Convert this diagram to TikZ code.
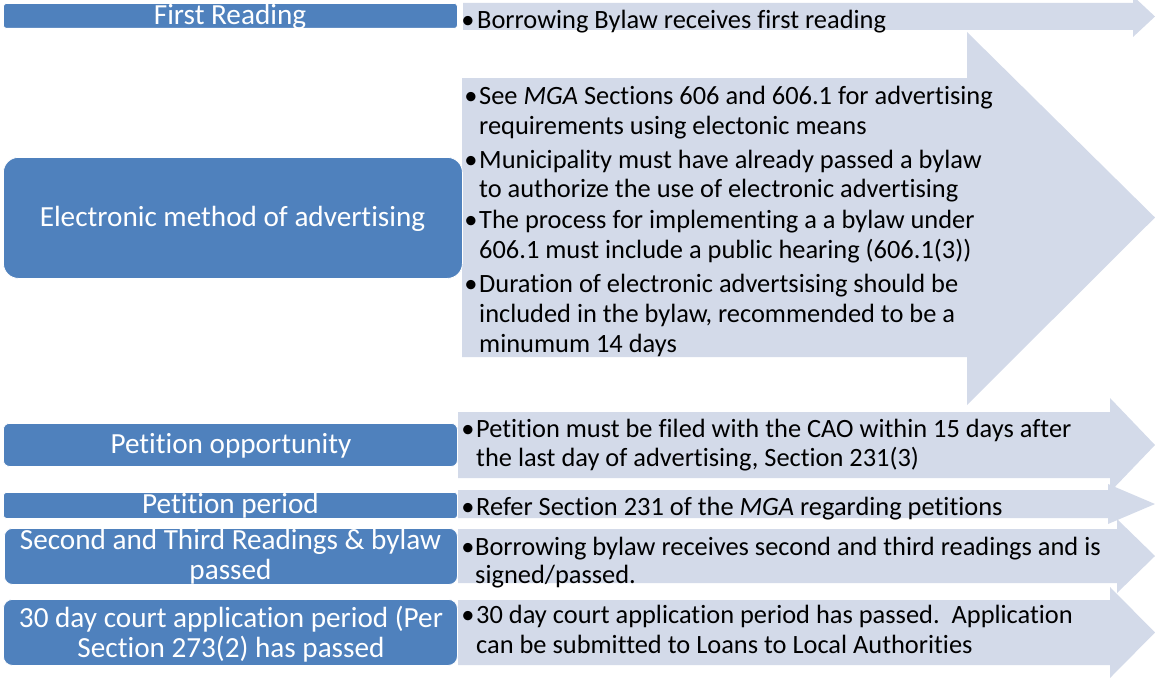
\documentclass[tikz,border=0pt]{standalone}
\usepackage{fontspec}
\setmainfont[Ligatures={NoCommon,NoContextual}]{Carlito}
\definecolor{boxblue}{HTML}{4F81BD}
\definecolor{arrowcol}{HTML}{D3DAE9}
\tikzset{
  stagebox/.style={fill=boxblue, draw=white, line width=0.8pt, inner sep=0pt, anchor=north west},
  stagetext/.style={text=white, inner sep=0pt, anchor=base, font=\fontsize{29.2}{30}\selectfont},
  itemtext/.style={text=black, inner sep=0pt, anchor=base west, font=\fontsize{26.4}{30}\selectfont},
  itemdot/.style={text=black, inner sep=0pt, anchor=base, font=\fontsize{26.4}{30}\selectfont},
}
\newcommand{\flowarrow}[6]{% left, body top, body bottom, head start, head top, head bottom
  \fill[arrowcol] (#1,#2) -- (#4,#2) -- (#4,#5) -- (1155,{(#2+#3)/2}) -- (#4,#6) -- (#4,#3) -- (#1,#3) -- cycle;}
\begin{document}
\begin{tikzpicture}[x=1pt,y=-1pt]
\useasboundingbox (0,0) rectangle (1155,677);
% arrows
\flowarrow{463}{3}{30}{1133}{-4}{37}
\flowarrow{462}{78}{357}{967}{32}{405}
\flowarrow{458}{412}{478}{1110}{398}{492}
\flowarrow{458}{490}{518}{1108}{484}{524}
\flowarrow{458}{529}{583}{1117}{519}{593}
\flowarrow{458}{600}{665}{1110}{587}{678}
% stage boxes
\node[stagebox, rounded corners=3pt, minimum width=454, minimum height=25] (s1) at (3,3) {};
\node[stagebox, rounded corners=15pt, minimum width=459, minimum height=121] (s2) at (3,157) {};
\node[stagebox, rounded corners=6pt, minimum width=454, minimum height=43] (s3) at (3,423) {};
\node[stagebox, rounded corners=3pt, minimum width=454, minimum height=26] (s4) at (3,492) {};
\node[stagebox, rounded corners=8pt, minimum width=453, minimum height=56] (s5) at (4,528) {};
\node[stagebox, rounded corners=9pt, minimum width=454, minimum height=66] (s6) at (3,599) {};
% stage texts
\node[stagetext] (t1) at (230,25) {First Reading};
\node[stagetext] (t2) at (232.5,226) {Electronic method of advertising};
\node[stagetext] (t3) at (231,453) {Petition opportunity};
\node[stagetext] (t4) at (230.5,513) {Petition period};
\node[stagetext] (t5a) at (230.5,549) {Second and Third Readings \& bylaw};
\node[stagetext] (t5b) at (230.5,579) {passed};
\node[stagetext] (t6a) at (231,627) {30 day court application period (Per};
\node[stagetext] (t6b) at (231,657) {Section 273(2) has passed};
% arrow 1
\node[itemdot] (d1) at (468,28.5) {•};
\node[itemtext] (a1) at (477,28.5) {Borrowing Bylaw receives first reading};
% arrow 2
\node[itemdot] (d2a) at (471,104) {•};
\node[itemtext] (a2a) at (479,104) {See \textit{MGA} Sections 606 and 606.1 for advertising};
\node[itemtext] (a2b) at (479,134) {requirements using electonic means};
\node[itemdot] (d2b) at (471,168) {•};
\node[itemtext] (a2c) at (479,168) {Municipality must have already passed a bylaw};
\node[itemtext] (a2d) at (479,197) {to authorize the use of electronic advertising};
\node[itemdot] (d2c) at (471,228) {•};
\node[itemtext] (a2e) at (479,228) {The process for implementing a a bylaw under};
\node[itemtext] (a2f) at (479,258) {606.1 must include a public hearing (606.1(3))};
\node[itemdot] (d2d) at (471,292) {•};
\node[itemtext] (a2g) at (479,292) {Duration of electronic advertsising should be};
\node[itemtext] (a2h) at (479,322) {included in the bylaw, recommended to be a};
\node[itemtext] (a2i) at (479,352) {minumum 14 days};
% arrow 3
\node[itemdot] (d3) at (468,437) {•};
\node[itemtext] (a3a) at (476,437) {Petition must be filed with the CAO within 15 days after};
\node[itemtext] (a3b) at (476,466) {the last day of advertising, Section 231(3)};
% arrow 4
\node[itemdot] (d4) at (468,515) {•};
\node[itemtext] (a4) at (476,515) {Refer Section 231 of the \textit{MGA} regarding petitions};
% arrow 5
\node[itemdot] (d5) at (468,555) {•};
\node[itemtext] (a5a) at (475,555) {Borrowing bylaw receives second and third readings and is};
\node[itemtext] (a5b) at (475,583) {signed/passed.};
% arrow 6
\node[itemdot] (d6) at (468,623) {•};
\node[itemtext] (a6a) at (476,623) {30 day court application period has passed.\ \ Application};
\node[itemtext] (a6b) at (476,653) {can be submitted to Loans to Local Authorities};
\end{tikzpicture}
\end{document}
